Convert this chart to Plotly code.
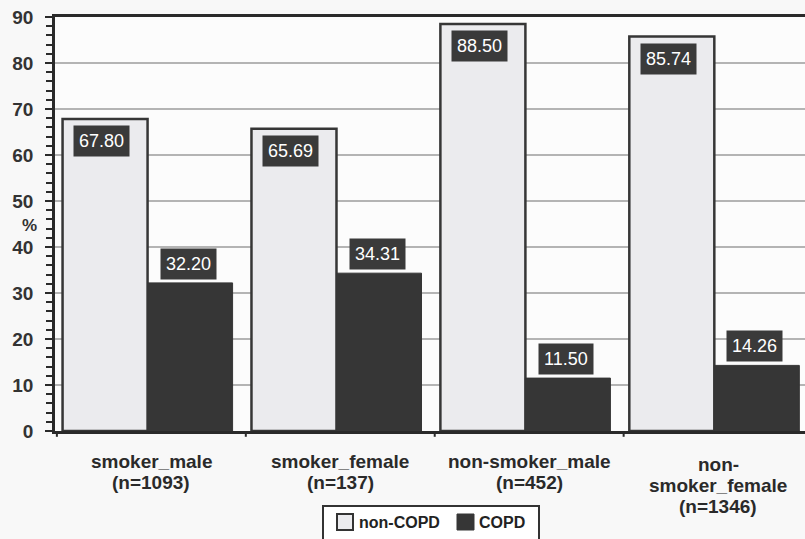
import plotly.graph_objects as go

categories = ["smoker_male<br>(n=1093)", "smoker_female<br>(n=137)",
              "non-smoker_male<br>(n=452)", "non-<br>smoker_female<br>(n=1346)"]
series_names = ["non-COPD", "COPD"]
non_copd = [67.80, 65.69, 88.50, 85.74]
copd = [32.20, 34.31, 11.50, 14.26]
y_ticks = [0, 10, 20, 30, 40, 50, 60, 70, 80, 90]

dark = "#363636"
light = "#ebebee"
font_family = "Liberation Sans, Arial, sans-serif"

# plot area in pixels
L, R, T, B = 55, 805, 17, 431
PW, PH = R - L, B - T


def px_x(p):
    return (p - L) / PW


def px_y(p):
    return (B - p) / PH


x_idx = list(range(len(categories)))
W = 0.45
OFF_A = -0.47
OFF_B = -0.02

fig = go.Figure()
fig.add_trace(go.Bar(x=x_idx, y=non_copd, name=series_names[0], width=W, offset=OFF_A,
                     marker=dict(color=light, line=dict(color=dark, width=2.5))))
fig.add_trace(go.Bar(x=x_idx, y=copd, name=series_names[1], width=W, offset=OFF_B,
                     marker=dict(color=dark, line=dict(color=dark, width=1))))

ann = []
lab_font = dict(color="white", size=18, family=font_family)
for i, v in enumerate(non_copd):
    ann.append(dict(x=i + OFF_A + W / 2 - 0.02, y=v, xref="x", yref="y", text=f"{v:.2f}",
                    showarrow=False, yanchor="top", yshift=-6, bgcolor="#3a3a3a",
                    font=lab_font, borderpad=5))
for i, v in enumerate(copd):
    ann.append(dict(x=i + OFF_B + W / 2 - 0.01, y=v, xref="x", yref="y", text=f"{v:.2f}",
                    showarrow=False, yanchor="bottom", yshift=3, bgcolor="#3a3a3a",
                    font=lab_font, borderpad=5))
ann.append(dict(x=px_x(29), xref="paper", y=px_y(225), yref="paper", xanchor="center",
                yanchor="middle", text="<b>%</b>", showarrow=False,
                font=dict(size=17, color="#333", family=font_family)))

# category labels (one annotation per line for tight line spacing)
cat_font = dict(size=19, color="#2a2a2a", family=font_family, weight="bold")
for i, c in enumerate(categories):
    lines = c.split("<br>")
    start = 461 if len(lines) < 3 else 465
    for k, line in enumerate(lines):
        ann.append(dict(x=i, xref="x", y=px_y(start + 21 * k), yref="paper",
                        xanchor="center", yanchor="middle", text=line, showarrow=False,
                        font=cat_font))

# custom legend
leg_font = dict(size=16, color="#222", family=font_family, weight="bold")
shapes = []
shapes.append(dict(type="rect", xref="paper", yref="paper", x0=px_x(323), x1=px_x(539),
                   y0=px_y(548), y1=px_y(506), line=dict(color="#333", width=2),
                   fillcolor="#ffffff", layer="above"))
shapes.append(dict(type="rect", xref="paper", yref="paper", x0=px_x(337), x1=px_x(353),
                   y0=px_y(530), y1=px_y(514), line=dict(color="#333", width=2),
                   fillcolor=light, layer="above"))
shapes.append(dict(type="rect", xref="paper", yref="paper", x0=px_x(457), x1=px_x(474),
                   y0=px_y(530), y1=px_y(514), line=dict(color=dark, width=1),
                   fillcolor=dark, layer="above"))
ann.append(dict(x=px_x(357), y=px_y(522), xref="paper", yref="paper", xanchor="left",
                yanchor="middle", text=series_names[0], showarrow=False, font=leg_font))
ann.append(dict(x=px_x(477), y=px_y(522), xref="paper", yref="paper", xanchor="left",
                yanchor="middle", text=series_names[1], showarrow=False, font=leg_font))

# boundary ticks on x axis
for b in [-0.5, 0.5, 1.5, 2.5]:
    shapes.append(dict(type="line", xref="x", yref="paper", x0=b, x1=b, y0=0, y1=-0.014,
                       line=dict(color="#2a2a2a", width=2)))

fig.update_layout(
    width=805, height=539,
    margin=dict(l=L, r=805 - R, t=T, b=539 - B, autoexpand=False),
    paper_bgcolor="#f8f8f8", plot_bgcolor="#fcfcfc",
    barmode="overlay",
    showlegend=False,
    annotations=ann,
    shapes=shapes,
    font=dict(family=font_family),
)
fig.update_xaxes(
    tickmode="array", tickvals=x_idx, showticklabels=False,
    range=[-0.51, 3.46], showgrid=False, zeroline=False, automargin=False,
    showline=True, linecolor="#2a2a2a", linewidth=3, mirror=True,
    ticks="",
)
fig.update_yaxes(
    range=[0, 90], tickvals=y_ticks, automargin=False,
    showgrid=True, gridcolor="#b4b4b4", gridwidth=2, zeroline=False,
    showline=True, linecolor="#2a2a2a", linewidth=2.5,
    ticks="outside", ticklen=7, tickcolor="#2a2a2a", tickwidth=2,
    minor=dict(dtick=2, ticks="outside", ticklen=6, tickcolor="#2a2a2a", tickwidth=2, showgrid=False),
    tickfont=dict(size=19, color="#333", family=font_family, weight="bold"),
    ticklabelstandoff=8,
)

fig.write_html("out.html", config={"displayModeBar": False},
               post_script="document.body.style.margin='0';")
